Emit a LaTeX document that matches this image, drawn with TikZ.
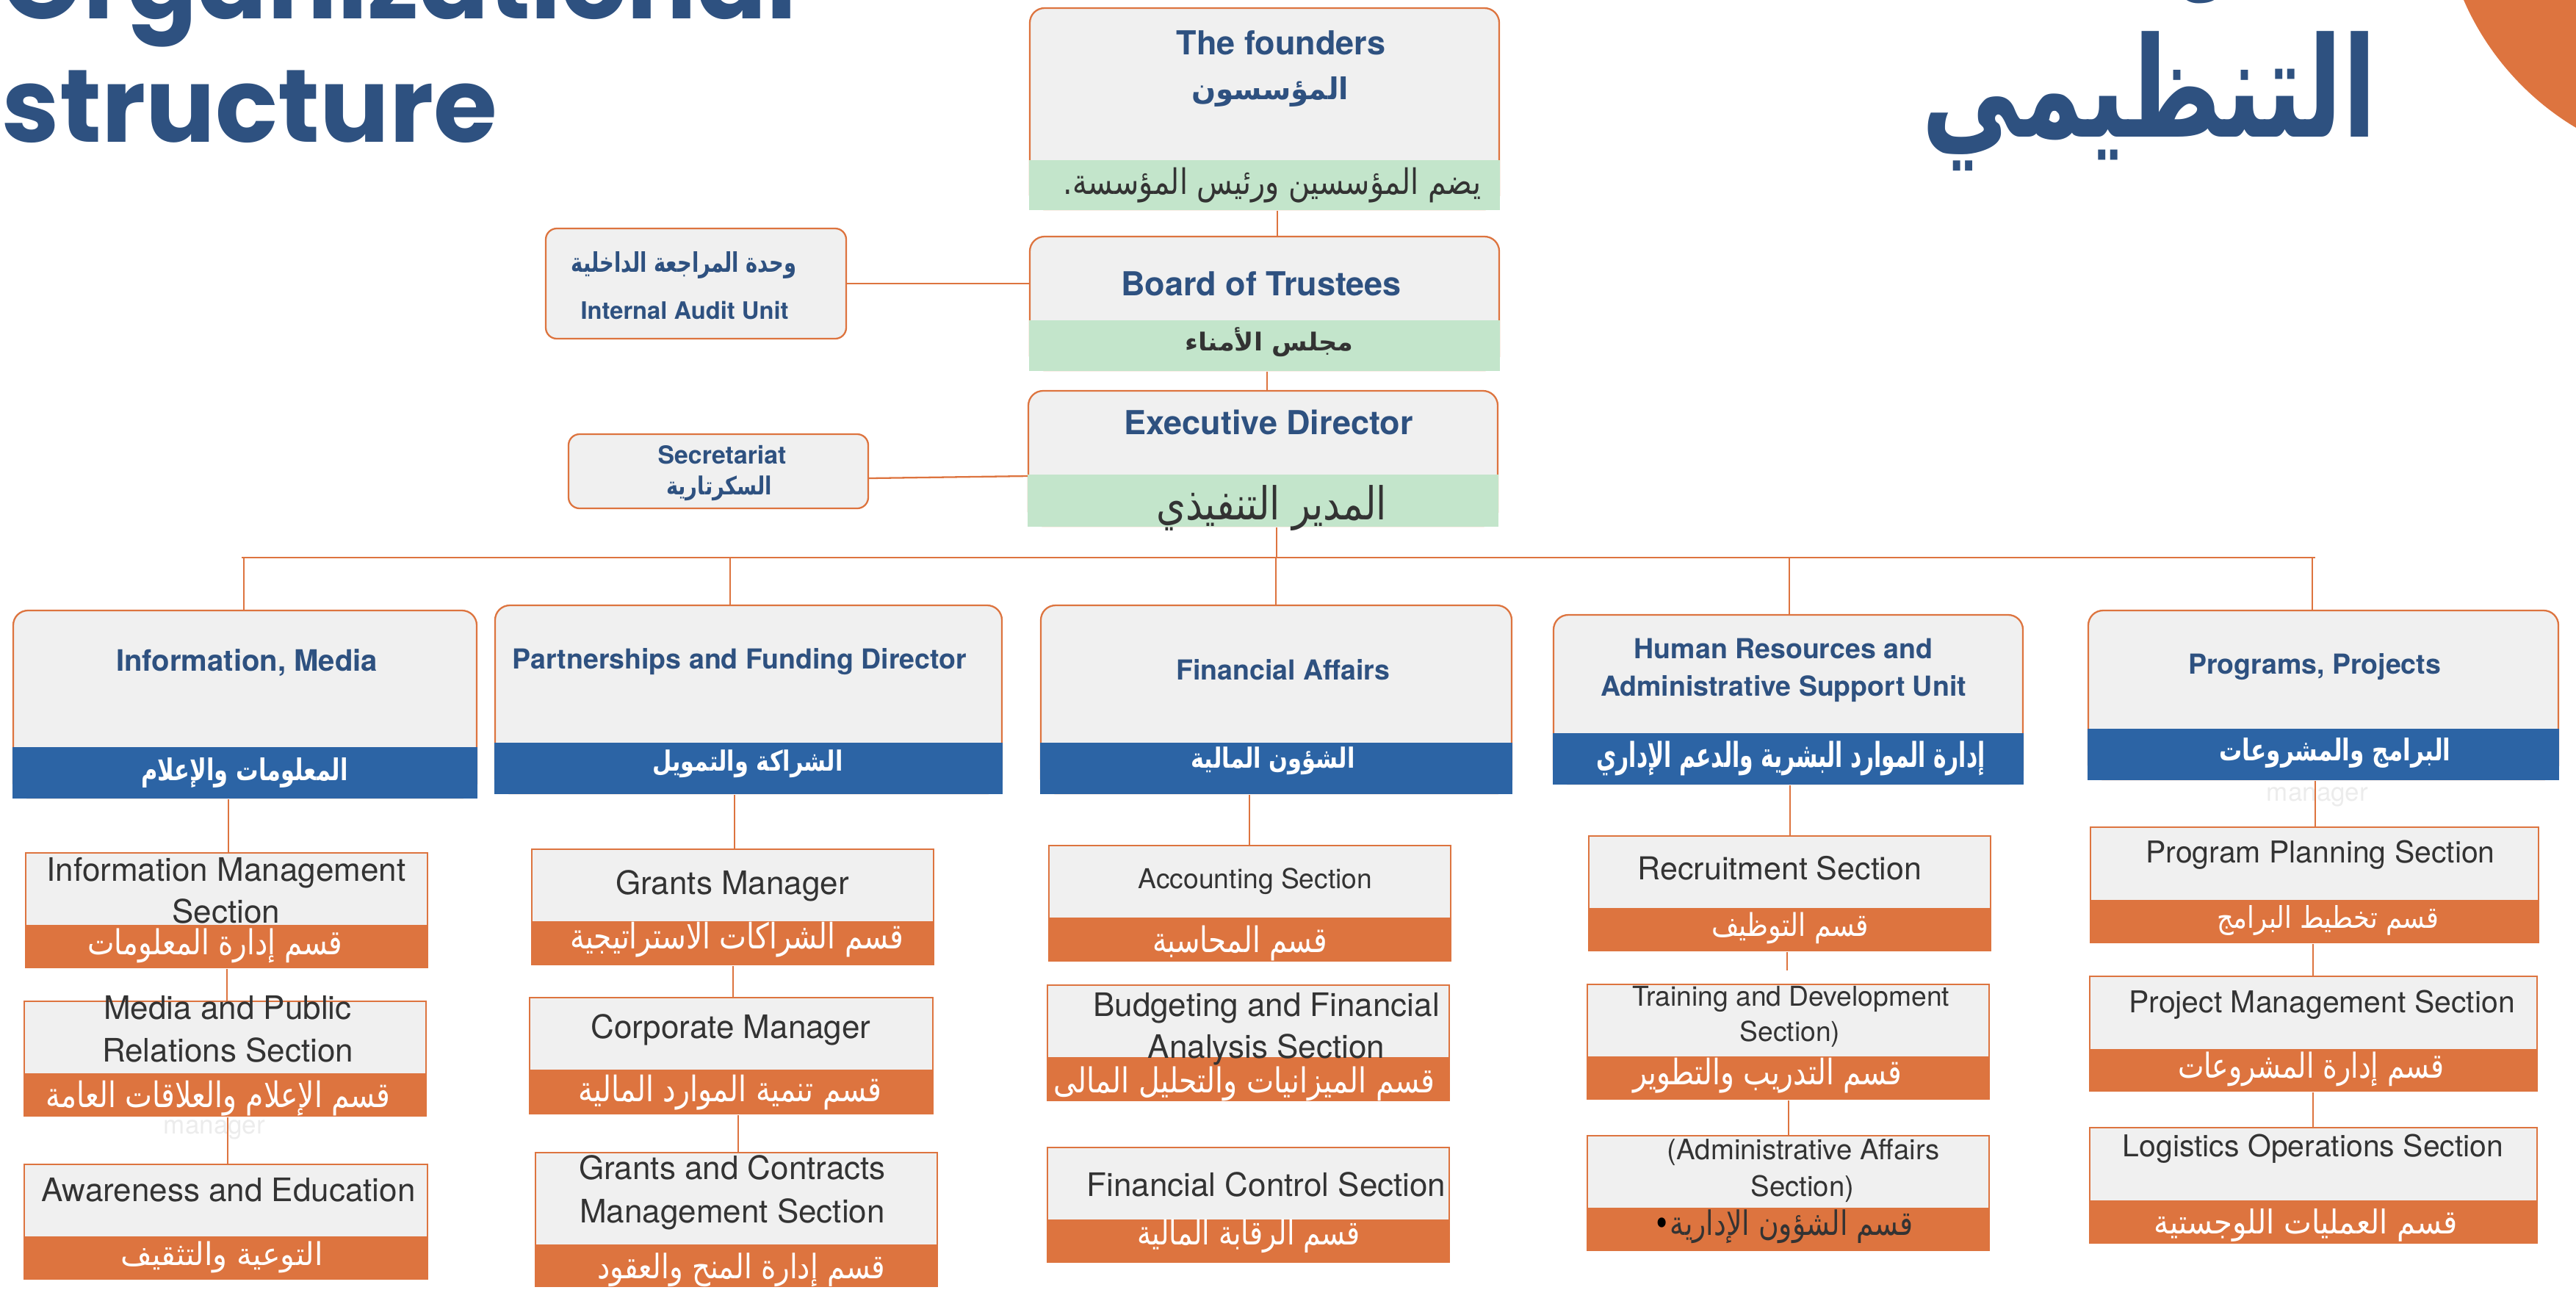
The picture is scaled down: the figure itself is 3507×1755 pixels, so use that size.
\documentclass[tikz,border=0pt]{standalone}
\usepackage{fontspec}
\usepackage{graphicx}
\TeXXeTstate=1
\setmainfont{TeX Gyre Heros}
\newfontfamily\arfont[Script=Arabic]{DejaVu Sans}
\newfontfamily\titlefont{Poppins}
\newlength\pxu
\setlength\pxu{0.1mm}
% Arabic text fitted to the reference width and ink height (in px)
\newcommand\arr[3]{\resizebox*{#1\pxu}{#2\pxu}{\arfont #3}}
\newcommand\arrb[3]{\resizebox*{#1\pxu}{#2\pxu}{\arfont\bfseries #3}}
\definecolor{orgnavy}{HTML}{2E5180}
\definecolor{orgblue}{HTML}{2C64A5}
\definecolor{orgorange}{HTML}{DD743F}
\definecolor{orggreen}{HTML}{C3E5CB}
\definecolor{orggray}{HTML}{F0F0F0}
\definecolor{orgdark}{HTML}{333333}
\definecolor{orgfaint}{HTML}{ECECEC}
% #1 name, #2 style, #3 x1, #4 y1, #5 x2, #6 y split, #7 y2, #8 band fill
\newcommand\orgbox[8]{%
  \node[#2, minimum width={(#5-#3)*0.1mm}, minimum height={(#7-#4)*0.1mm}] (#1) at ({(#3+#5)/2},{(#4+#7)/2}) {};
  \node[band, #8, minimum width={(#5-#3)*0.1mm+0.7pt}, minimum height={(#7-#6)*0.1mm+0.7pt}] (#1b) at ({(#3+#5)/2},{(#6+#7)/2}) {};
}
\newcommand\vlink[3]{\draw[conn] (#1.south -| #3,0) -- (#2.north -| #3,0);}
\begin{document}
\begin{tikzpicture}[x=0.1mm,y=-0.1mm,
  conn/.style={draw=orgorange, line width=0.65pt},
  rbox/.style={draw=orgorange, fill=orggray, line width=0.65pt, rounded corners=2mm, inner sep=0pt},
  sbox/.style={draw=orgorange, fill=orggray, line width=0.65pt, inner sep=0pt},
  band/.style={inner sep=0pt, draw=none},
  txt/.style={inner sep=0pt, anchor=base},
  artxt/.style={inner sep=0pt, anchor=center},
  headfont/.style={font=\bfseries\fontsize{12.8pt}{15pt}\selectfont, text=orgnavy},
  deptfont/.style={font=\bfseries\fontsize{10.67pt}{13pt}\selectfont, text=orgnavy},
  secfont/.style={font=\fontsize{12.52pt}{15pt}\selectfont, text=orgdark},
  smallsec/.style={font=\fontsize{10.6pt}{13pt}\selectfont, text=orgdark},
  midsec/.style={font=\fontsize{11.65pt}{14pt}\selectfont, text=orgdark},
  titlestyle/.style={inner sep=0pt, anchor=base west, text=orgnavy, font=\titlefont\bfseries\fontsize{40pt}{42pt}\selectfont}
]
\useasboundingbox (0,0) rectangle (3507,1755);
\clip (0,0) rectangle (3507,1755);

% decorative circle
\fill[orgorange] (3700,-150) circle[radius=37.7mm];

% titles
\node[titlestyle] (ttl1) at (2,25) {Organizational};
\node[titlestyle] (ttl2) at (2,193) {structure};
\node[artxt, text=orgnavy] (atl1) at (2915,-72) {\arrb{430}{154}{\beginR الهيكل\endR}};
\node[artxt, text=orgnavy] (atl2) at (2926,138) {\arrb{619}{190}{\beginR التنظيمي\endR}};

% top boxes
\orgbox{founders}{rbox}{1402}{11}{2041}{219}{285}{fill=orggreen}
\node[txt, headfont] (founderst) at (1744,74) {The founders};
\node[artxt, text=orgnavy] (foundersa) at (1729,125) {\arrb{214}{41}{\beginR المؤسسون\endR}};
\node[artxt, text=orgdark] (foundersn) at (1732,252) {\arr{568}{48}{\beginR يضم المؤسسين ورئيس المؤسسة.\endR}};

\orgbox{board}{rbox}{1402}{322}{2041}{437}{504}{fill=orggreen}
\node[txt, headfont] (boardt) at (1717,402) {Board of Trustees};
\node[artxt, text=orgdark] (boarda) at (1728,466) {\arrb{229}{40}{\beginR مجلس الأمناء\endR}};

\orgbox{exec}{rbox}{1400}{532}{2039}{647}{716}{fill=orggreen}
\node[txt, headfont] (exect) at (1727,591) {Executive Director};
\node[artxt, text=orgdark] (execa) at (1731,692) {\arr{314}{62}{\beginR المدير التنفيذي\endR}};

% side boxes
\node[rbox, rounded corners=1.5mm, minimum width=40.9mm, minimum height=15mm] (audit) at (947.5,386) {};
\node[artxt, text=orgnavy] (audita) at (931,361) {\arrb{307}{37}{\beginR وحدة المراجعة الداخلية\endR}};
\node[txt, font=\bfseries\fontsize{9.3pt}{11pt}\selectfont, text=orgnavy] (auditt) at (932,434) {Internal Audit Unit};

\node[rbox, rounded corners=1.5mm, minimum width=40.8mm, minimum height=10.1mm] (sec) at (978,641.5) {};
\node[txt, font=\bfseries\fontsize{9.6pt}{11pt}\selectfont, text=orgnavy] (sect) at (983,631) {Secretariat};
\node[artxt, text=orgnavy] (seca) at (979,665) {\arrb{144}{34}{\beginR السكرتارية\endR}};

% departments
\orgbox{info}{rbox}{18}{831}{649}{1018}{1086}{fill=orgblue}
\node[txt, font=\bfseries\fontsize{11.4pt}{13pt}\selectfont, text=orgnavy] (infot) at (336,913) {Information, Media};
\node[artxt, text=white] (infoa) at (333,1052) {\arrb{281}{41}{\beginR المعلومات والإعلام\endR}};

\orgbox{partner}{rbox}{674}{824}{1364}{1012}{1080}{fill=orgblue}
\node[txt, deptfont] (partnert) at (1007,910) {Partnerships and Funding Director};
\node[artxt, text=white] (partnera) at (1018,1040) {\arrb{259}{38}{\beginR الشراكة والتمويل\endR}};

\orgbox{fin}{rbox}{1417}{824}{2058}{1012}{1080}{fill=orgblue}
\node[txt, deptfont] (fint) at (1747,925) {Financial Affairs};
\node[artxt, text=white] (fina) at (1733,1036) {\arrb{223}{38}{\beginR الشؤون المالية\endR}};

\orgbox{hr}{rbox}{2115}{837}{2754}{999}{1067}{fill=orgblue}
\node[txt, deptfont] (hrt1) at (2428,896) {Human Resources and};
\node[txt, deptfont] (hrt2) at (2428,947) {Administrative Support Unit};
\node[artxt, text=white] (hra) at (2438,1032) {\arrb{529}{47}{\beginR إدارة الموارد البشرية والدعم الإداري\endR}};

\orgbox{prog}{rbox}{2843}{831}{3483}{993}{1061}{fill=orgblue}
\node[txt, deptfont] (progt) at (3151,917) {Programs, Projects};
\node[artxt, text=white] (proga) at (3179,1025) {\arrb{315}{41}{\beginR البرامج والمشروعات\endR}};

% faint labels
\node[txt, text=orgfaint, font=\fontsize{9.96pt}{12pt}\selectfont] (mgr1) at (292,1543) {manager};
\node[txt, text=orgfaint, font=\fontsize{9.96pt}{12pt}\selectfont] (mgr2) at (3155,1090) {manager};

% column 1
\orgbox{im}{sbox}{35}{1161}{582}{1260}{1317}{fill=orgorange}
\node[txt, secfont] (imt1) at (308,1199) {Information Management};
\node[txt, secfont] (imt2) at (308,1256) {Section};
\node[artxt, text=white] (ima) at (293,1287) {\arr{347}{47}{\beginR قسم إدارة المعلومات\endR}};

\orgbox{mpr}{sbox}{33}{1363}{580}{1462}{1519}{fill=orgorange}
\node[txt, secfont] (mprt1) at (310,1387) {Media and Public};
\node[txt, secfont] (mprt2) at (310,1445) {Relations Section};
\node[artxt, text=white] (mpra) at (297,1495) {\arr{469}{48}{\beginR قسم الإعلام والعلاقات العامة\endR}};

\orgbox{ae}{sbox}{33}{1585}{582}{1684}{1741}{fill=orgorange}
\node[txt, secfont] (aet) at (311,1635) {Awareness and Education};
\node[artxt, text=white] (aea) at (302,1711) {\arr{275}{43}{\beginR التوعية والتثقيف\endR}};

% column 2
\orgbox{gm}{sbox}{724}{1156}{1271}{1255}{1313}{fill=orgorange}
\node[txt, secfont] (gmt) at (997,1217) {Grants Manager};
\node[artxt, text=white] (gma) at (1003,1279) {\arr{454}{48}{\beginR قسم الشراكات الاستراتيجية\endR}};

\orgbox{cm}{sbox}{721}{1358}{1270}{1457}{1516}{fill=orgorange}
\node[txt, secfont] (cmt) at (995,1413) {Corporate Manager};
\node[artxt, text=white] (cma) at (994,1487) {\arr{413}{48}{\beginR قسم تنمية الموارد المالية\endR}};

\orgbox{gcm}{sbox}{729}{1569}{1276}{1695}{1751}{fill=orgorange}
\node[txt, secfont] (gcmt1) at (997,1605) {Grants and Contracts};
\node[txt, secfont] (gcmt2) at (997,1664) {Management Section};
\node[artxt, text=white] (gcma) at (1009,1729) {\arr{392}{46}{\beginR قسم إدارة المنح والعقود\endR}};

% column 3
\orgbox{acc}{sbox}{1428}{1151}{1975}{1250}{1308}{fill=orgorange}
\node[txt, smallsec] (acct) at (1709,1209) {Accounting Section};
\node[artxt, text=white] (acca) at (1688,1284) {\arr{238}{48}{\beginR قسم المحاسبة\endR}};

\orgbox{bfa}{sbox}{1426}{1341}{1973}{1440}{1498}{fill=orgorange}
\node[txt, secfont] (bfat1) at (1724,1383) {Budgeting and Financial};
\node[txt, secfont] (bfat2) at (1724,1440) {Analysis Section};
\node[artxt, text=white] (bfaa) at (1694,1475) {\arr{519}{47}{\beginR قسم الميزانيات والتحليل المالى\endR}};

\orgbox{fc}{sbox}{1426}{1562}{1973}{1661}{1718}{fill=orgorange}
\node[txt, secfont] (fct) at (1724,1628) {Financial Control Section};
\node[artxt, text=white] (fca) at (1700,1683) {\arr{303}{46}{\beginR قسم الرقابة المالية\endR}};

% column 4
\orgbox{rec}{sbox}{2163}{1138}{2710}{1237}{1294}{fill=orgorange}
\node[txt, font=\fontsize{12.23pt}{14pt}\selectfont, text=orgdark] (rect) at (2423,1197) {Recruitment Section};
\node[artxt, text=white] (reca) at (2437,1263) {\arr{214}{43}{\beginR قسم التوظيف\endR}};

\orgbox{td}{sbox}{2161}{1340}{2708}{1439}{1496}{fill=orgorange}
\node[txt, smallsec] (tdt1) at (2438,1369) {Training and Development};
\node[txt, smallsec] (tdt2) at (2437,1417) {Section)};
\node[artxt, text=white] (tda) at (2406,1464) {\arr{366}{48}{\beginR قسم التدريب والتطوير\endR}};

\orgbox{aa}{sbox}{2161}{1546}{2708}{1645}{1702}{fill=orgorange}
\node[txt, font=\fontsize{10.9pt}{13pt}\selectfont, text=orgdark] (aat1) at (2455,1578) {(Administrative Affairs};
\node[txt, font=\fontsize{10.9pt}{13pt}\selectfont, text=orgdark] (aat2) at (2454,1628) {Section)};
\node[artxt, text=white] (aaa) at (2428,1670) {\arr{353}{46}{\beginR قسم الشؤون الإدارية{\color{orgdark}•}\endR}};

% column 5
\orgbox{pp}{sbox}{2846}{1126}{3456}{1226}{1283}{fill=orgorange}
\node[txt, midsec] (ppt) at (3159,1174) {Program Planning Section};
\node[artxt, text=white] (ppa) at (3169,1253) {\arr{302}{41}{\beginR قسم تخطيط البرامج\endR}};

\orgbox{pm}{sbox}{2845}{1329}{3454}{1429}{1485}{fill=orgorange}
\node[txt, midsec] (pmt) at (3161,1378) {Project Management Section};
\node[artxt, text=white] (pma) at (3146,1455) {\arr{362}{47}{\beginR قسم إدارة المشروعات\endR}};

\orgbox{lo}{sbox}{2845}{1535}{3454}{1635}{1692}{fill=orgorange}
\node[txt, midsec] (lot) at (3149,1574) {Logistics Operations Section};
\node[artxt, text=white] (loa) at (3139,1668) {\arr{413}{45}{\beginR قسم العمليات اللوجستية\endR}};

% connectors: top chain
\vlink{foundersb}{board}{1739}
\vlink{boardb}{exec}{1725}
\draw[conn] (audit.east) -- (audit.east -| board.west);
\draw[conn] (sec.east |- 0,651) -- (exec.west |- 0,648);

% bus
\coordinate (busL) at (329,759);
\coordinate (busR) at (3152,759);
\coordinate (t0) at (1738,759);
\coordinate (t1) at (332,759);
\coordinate (t2) at (994,759);
\coordinate (t3) at (1737,759);
\coordinate (t4) at (2436,759);
\coordinate (t5) at (3148,759);
\draw[conn] (execb.south -| t0) -- (t0);
\draw[conn] (busL) -- (busR);
\draw[conn] (t1) -- (t1 |- info.north);
\draw[conn] (t2) -- (t2 |- partner.north);
\draw[conn] (t3) -- (t3 |- fin.north);
\draw[conn] (t4) -- (t4 |- hr.north);
\draw[conn] (t5) -- (t5 |- prog.north);

% department to sections
\vlink{infob}{im}{311}
\vlink{imb}{mpr}{309}
\vlink{mprb}{ae}{310}
\vlink{partnerb}{gm}{1000}
\vlink{gmb}{cm}{998}
\vlink{cmb}{gcm}{1005}
\vlink{finb}{acc}{1701}
\vlink{hrb}{rec}{2437}
\coordinate (recend) at (2433,1321);
\draw[conn] (recb.south -| recend) -- (recend);
\vlink{tdb}{aa}{2435}
\vlink{progb}{pp}{3152}
\vlink{ppb}{pm}{3149}
\vlink{pmb}{lo}{3149}
\end{tikzpicture}
\end{document}
